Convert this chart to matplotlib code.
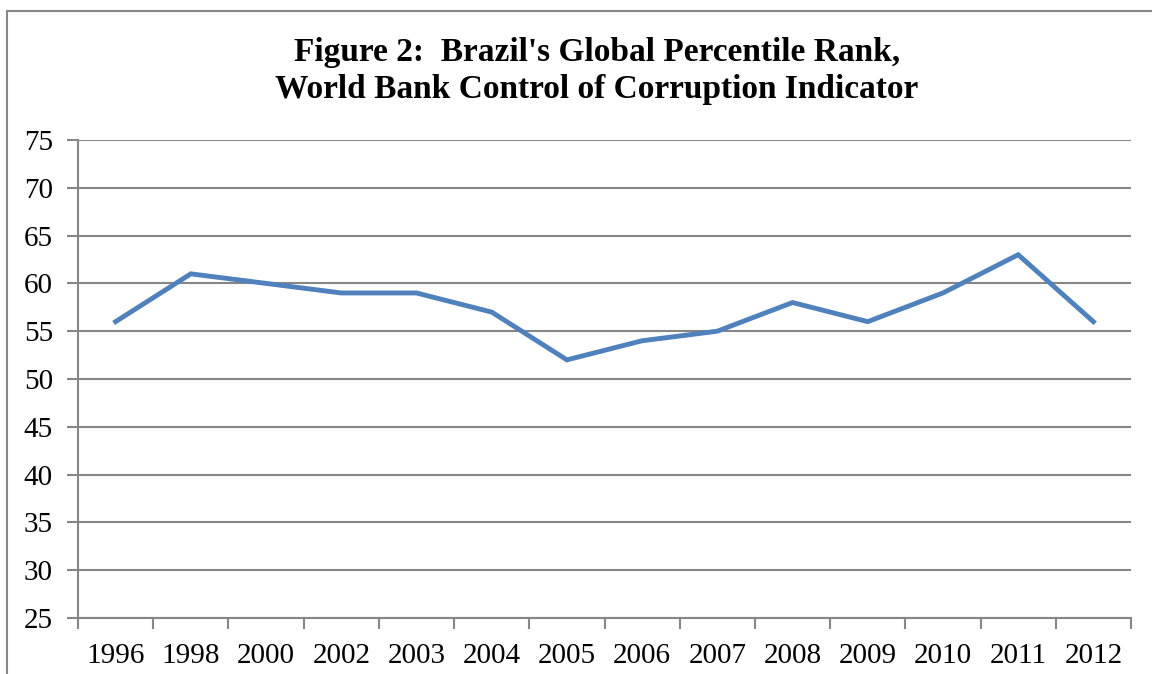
import matplotlib
matplotlib.use("Agg")
import matplotlib.pyplot as plt
from matplotlib.patches import Rectangle
import numpy as np

years = ["1996", "1998", "2000", "2002", "2003", "2004", "2005", "2006",
         "2007", "2008", "2009", "2010", "2011", "2012"]
rank = [56, 61, 60, 59, 59, 57, 52, 54, 55, 58, 56, 59, 63, 56]
yticks = [25, 30, 35, 40, 45, 50, 55, 60, 65, 70, 75]
title = "Figure 2:  Brazil's Global Percentile Rank,\nWorld Bank Control of Corruption Indicator"

W, H = 1152, 674
fig = plt.figure(figsize=(W / 100, H / 100), dpi=100)
fig.patch.set_facecolor("white")

grey = "#868686"
serif = ["Liberation Serif", "DejaVu Serif"]

# outer chart frame (left and top visible)
fig.add_artist(Rectangle((7 / W, -0.1), 1.2, (H - 11) / H + 0.1,
                         transform=fig.transFigure, fill=False,
                         edgecolor=grey, linewidth=1.5))

ax = fig.add_axes([78 / W, 1 - 618 / H, (1131 - 78) / W, (618 - 140) / H])
x = np.arange(len(years))
ax.plot(x, rank, color="#4F81BD", linewidth=3.5, solid_joinstyle="miter")

ax.set_xlim(-0.5, len(years) - 0.5)
ax.set_ylim(min(yticks), max(yticks))
ax.set_yticks(yticks)
ax.set_yticklabels([str(v) for v in yticks], fontfamily=serif, fontsize=21)
ax.set_xticks(x)
ax.set_xticklabels(years, fontfamily=serif, fontsize=21)
ax.set_xticks(np.arange(-0.5, len(years)), minor=True)
ax.tick_params(axis="x", which="major", length=0, pad=18)
ax.tick_params(axis="x", which="minor", length=8, width=1.5, color=grey)
ax.tick_params(axis="y", length=8, width=1.5, color=grey, pad=10)
ax.grid(axis="y", color=grey, linewidth=1.5)
ax.set_axisbelow(True)
for s in ["top", "right"]:
    ax.spines[s].set_visible(False)
for s in ["left", "bottom"]:
    ax.spines[s].set_color(grey)
    ax.spines[s].set_linewidth(1.5)

fig.text(597 / W, 1 - 71 / H, title, ha="center", va="center",
         fontfamily=serif, fontweight="bold", fontsize=24, linespacing=1.25)

fig.savefig("out.png", dpi=100, facecolor="white")
